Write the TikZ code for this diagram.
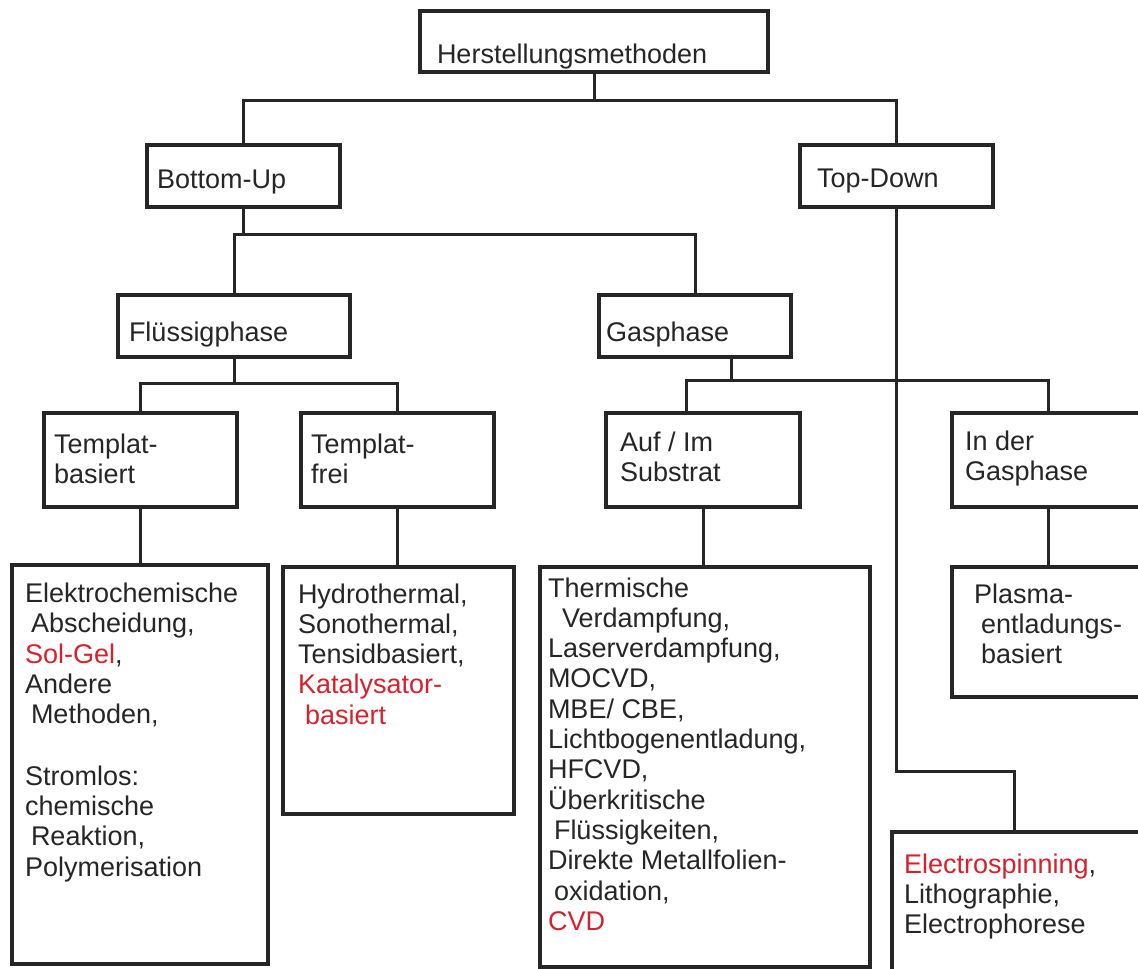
\documentclass[tikz,border=0pt]{standalone}
\usepackage{fontspec}
\setmainfont{Liberation Sans}
\definecolor{ink}{HTML}{262626}
\definecolor{myred}{RGB}{214,34,44}
\tikzset{
  box/.style={draw=ink, line width=3.4pt, outer sep=0pt, inner sep=0pt, anchor=north west, rectangle},
  conn/.style={draw=ink, line width=3pt},
  txt/.style={anchor=base west, inner sep=0pt, outer sep=0pt, align=left, text=ink,
    font=\fontsize{27}{30.3}\selectfont}
}
\newcommand{\rd}[1]{\textcolor{myred}{#1}}
\begin{document}
\begin{tikzpicture}[x=1pt,y=-1pt]
\useasboundingbox (0,0) rectangle (1138,969);
\fill[white] (0,0) rectangle (1138,969);
\clip (0,0) rectangle (1138,969);
% boxes
\node[box, minimum width=348pt, minimum height=61pt] (top) at (420,11) {};
\node[box, minimum width=193pt, minimum height=62pt] (bu) at (147,145) {};
\node[box, minimum width=193pt, minimum height=62pt] (td) at (800,145) {};
\node[box, minimum width=232pt, minimum height=62pt] (fl) at (118,295) {};
\node[box, minimum width=192pt, minimum height=62pt] (gas) at (599,295) {};
\node[box, minimum width=193pt, minimum height=94pt] (tb) at (44,413) {};
\node[box, minimum width=193pt, minimum height=94pt] (tf) at (301,413) {};
\node[box, minimum width=194pt, minimum height=94pt] (auf) at (606,413) {};
\node[box, minimum width=210pt, minimum height=94pt] (ind) at (952,413) {};
\node[box, minimum width=256pt, minimum height=399pt] (ele) at (12,565) {};
\node[box, minimum width=231pt, minimum height=247pt] (hyd) at (283,567) {};
\node[box, minimum width=330pt, minimum height=400pt] (the) at (540,567) {};
\node[box, minimum width=210pt, minimum height=130pt] (pla) at (952,567) {};
\node[box, minimum width=270pt, minimum height=160pt] (esp) at (892,832) {};
% connectors
\draw[conn] (top.south) -- ++(0,28);
\draw[conn] (bu.north) -- ++(0,-45) -| (td.north);
\draw[conn] (bu.south) -- ++(0,27);
\draw[conn] (fl.north) -- ++(0,-61) -| (gas.north);
\draw[conn] (fl.south) -- ++(0,26);
\draw[conn] (tb.north) -- ++(0,-30) -| (tf.north);
\draw[conn] ([xshift=36pt]gas.south) -- ++(0,23);
\draw[conn] ([xshift=-17pt]auf.north) -- ++(0,-33) -| ([xshift=96pt]ind.north west);
\draw[conn] (tb.south) -- (tb.south |- ele.north);
\draw[conn] (tf.south) -- (tf.south |- hyd.north);
\draw[conn] (auf.south) -- (auf.south |- the.north);
\draw[conn] ([xshift=96pt]ind.south west) -- ([xshift=96pt]pla.north west);
\draw[conn] (td.south) -- ++(0,564) -| ([xshift=122pt]esp.north west);
% texts (multi-line nodes: anchor at baseline of last line)
\node[txt] (ttop) at (437,63) {Herstellungsmethoden};
\node[txt] (tbu) at (157,188) {Bottom-Up};
\node[txt] (ttd) at (817,187) {Top-Down};
\node[txt] (tfl) at (129,341) {Flüssigphase};
\node[txt] (tgas) at (606,341) {Gasphase};
\node[txt] (ttb) at (54,483.3) {Templat-\\basiert};
\node[txt] (ttf) at (311,483.3) {Templat-\\frei};
\node[txt] (tauf) at (620,481.3) {Auf / Im\\Substrat};
\node[txt] (tind) at (965,480.3) {In der\\Gasphase};
\node[txt] (tele) at (25,876) {Elektrochemische\\\hspace*{6pt}Abscheidung,\\\rd{Sol-Gel},\\Andere\\\hspace*{6pt}Methoden,\\[31pt]Stromlos:\\chemische\\\hspace*{6pt}Reaktion,\\Polymerisation};
\node[txt] (thyd) at (298,724.2) {Hydrothermal,\\Sonothermal,\\Tensidbasiert,\\\rd{Katalysator-}\\\hspace*{7pt}\rd{basiert}};
\node[txt] (tthe) at (548,930.3) {Thermische\\\hspace*{14pt}Verdampfung,\\Laserverdampfung,\\MOCVD,\\MBE/ CBE,\\Lichtbogenentladung,\\HFCVD,\\Überkritische\\\hspace*{6pt}Flüssigkeiten,\\Direkte Metallfolien-\\\hspace*{6pt}oxidation,\\\rd{CVD}};
\node[txt] (tpla) at (974,663.6) {Plasma-\\\hspace*{7pt}entladungs-\\\hspace*{7pt}basiert};
\node[txt] (tesp) at (904,933.6) {\rd{Electrospinning},\\Lithographie,\\Electrophorese};
\end{tikzpicture}
\end{document}
